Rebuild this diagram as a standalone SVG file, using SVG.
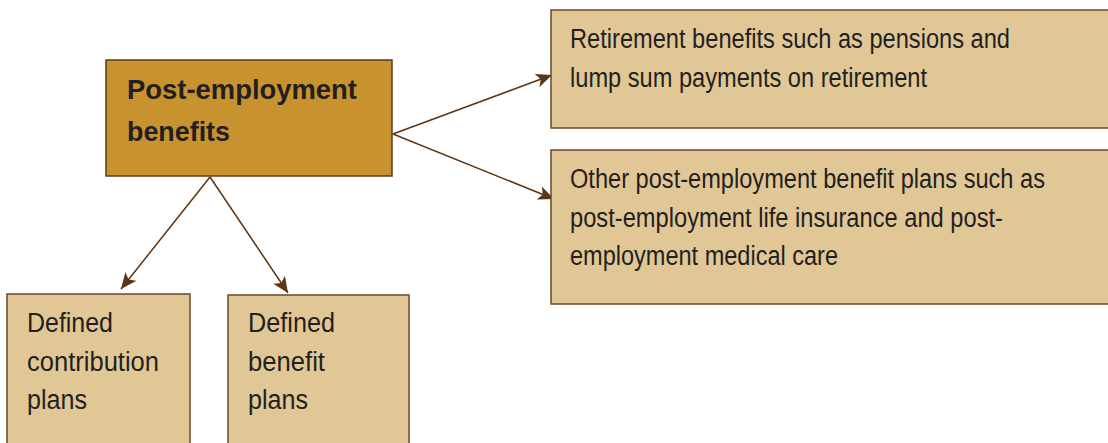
<svg xmlns="http://www.w3.org/2000/svg" width="1108" height="443" viewBox="0 0 1108 443">
<style>
.main{fill:#C8922F;stroke:#5A3A1C;stroke-width:1.5}
.box{fill:#E2C796;stroke:#6B4A2A;stroke-width:1.5}
.t{font-family:"Liberation Sans",Arial,sans-serif;font-size:27px;fill:#231F20}
.tb{font-family:"Liberation Sans",Arial,sans-serif;font-size:28px;font-weight:bold;fill:#231F20}
.c{stroke:#5C3513;stroke-width:1.5;fill:none;marker-end:url(#ah)}
</style>
<defs>
<marker id="ah" markerUnits="userSpaceOnUse" markerWidth="18" markerHeight="14" refX="16" refY="7" orient="auto">
<path d="M0,0 L16,7 L0,14 L4,7 Z" fill="#5C3513"/>
</marker>
</defs>
<rect width="1108" height="443" fill="#FFFFFF"/>
<g id="connectors">
<line class="c" x1="393" y1="134" x2="552" y2="75"/>
<line class="c" x1="393" y1="134" x2="554" y2="199"/>
<line class="c" x1="210" y1="177" x2="121" y2="289"/>
<line class="c" x1="210" y1="177" x2="288" y2="293"/>
</g>
<g id="node-main">
<rect class="main" x="106" y="60" width="286" height="116"/>
<text class="tb" x="127" y="99" textLength="230" lengthAdjust="spacingAndGlyphs">Post-employment</text>
<text class="tb" x="127" y="141" textLength="103" lengthAdjust="spacingAndGlyphs">benefits</text>
</g>
<g id="node-retirement">
<rect class="box" x="551" y="10" width="570" height="118"/>
<text class="t" x="570" y="48" textLength="440" lengthAdjust="spacingAndGlyphs">Retirement benefits such as pensions and</text>
<text class="t" x="570" y="87" textLength="357" lengthAdjust="spacingAndGlyphs">lump sum payments on retirement</text>
</g>
<g id="node-other">
<rect class="box" x="551" y="150" width="570" height="154"/>
<text class="t" x="570" y="188" textLength="475" lengthAdjust="spacingAndGlyphs">Other post-employment benefit plans such as</text>
<text class="t" x="570" y="227" textLength="433" lengthAdjust="spacingAndGlyphs">post-employment life insurance and post-</text>
<text class="t" x="570" y="265" textLength="268" lengthAdjust="spacingAndGlyphs">employment medical care</text>
</g>
<g id="node-dc">
<rect class="box" x="7" y="294" width="183" height="160"/>
<text class="t" x="27" y="332" textLength="86" lengthAdjust="spacingAndGlyphs">Defined</text>
<text class="t" x="27" y="371" textLength="132" lengthAdjust="spacingAndGlyphs">contribution</text>
<text class="t" x="27" y="409" textLength="60" lengthAdjust="spacingAndGlyphs">plans</text>
</g>
<g id="node-db">
<rect class="box" x="228" y="295" width="181" height="160"/>
<text class="t" x="248" y="332" textLength="87" lengthAdjust="spacingAndGlyphs">Defined</text>
<text class="t" x="248" y="371" textLength="77" lengthAdjust="spacingAndGlyphs">benefit</text>
<text class="t" x="248" y="409" textLength="60" lengthAdjust="spacingAndGlyphs">plans</text>
</g>
</svg>
